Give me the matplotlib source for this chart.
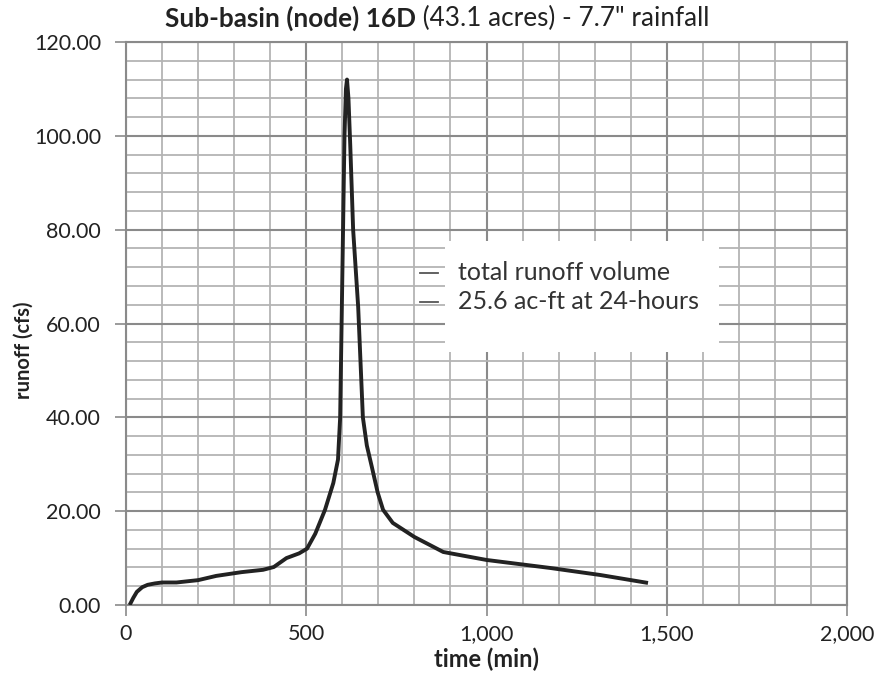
import matplotlib
matplotlib.use("Agg")
import matplotlib.pyplot as plt
from matplotlib.ticker import MultipleLocator, FuncFormatter

plt.rcParams['font.family'] = ['Lato', 'DejaVu Sans']

# hydrograph
time_min = [10, 20, 30, 45, 60, 80, 100, 140, 200, 250, 320, 380, 410, 445, 480,
            502, 525, 552, 575, 588, 594, 599, 602, 606, 610, 613, 617, 622, 630,
            644, 657, 668, 682, 698, 713, 740, 800, 880, 1000, 1176, 1315, 1448]
runoff_cfs = [0.0, 1.5, 2.8, 3.8, 4.3, 4.6, 4.8, 4.8, 5.3, 6.2, 7.0, 7.5, 8.1, 10.0, 11.0,
              12.0, 15.2, 20.3, 26.0, 31.0, 40.0, 65.0, 80.0, 100.0, 110.0, 112.0, 108.0, 98.0, 80.0,
              63.5, 40.0, 34.0, 29.4, 24.0, 20.3, 17.5, 14.5, 11.3, 9.6, 7.9, 6.4, 4.7]

title_bold = "Sub-basin (node) 16D"
title_rest = " (43.1 acres) - 7.7\" rainfall"
note_lines = ["total runoff volume", "25.6 ac-ft at 24-hours"]

fig = plt.figure(figsize=(8.82, 6.81), dpi=100)
ax = fig.add_axes([0.1429, 0.1116, 0.9603 - 0.1429, 0.9383 - 0.1116])

ax.set_xlim(0, 2000)
ax.set_ylim(0, 120)
ax.xaxis.set_major_locator(MultipleLocator(500))
ax.xaxis.set_minor_locator(MultipleLocator(100))
ax.yaxis.set_major_locator(MultipleLocator(20))
ax.yaxis.set_minor_locator(MultipleLocator(4))
ax.grid(which='minor', color='#b4b4b4', linewidth=1.3)
ax.grid(which='major', color='#8a8a8a', linewidth=1.5)
ax.set_axisbelow(True)
for s in ax.spines.values():
    s.set_color('#8a8a8a')
    s.set_linewidth(1.5)
ax.tick_params(which='major', length=8, color='#8a8a8a', width=1.2, labelsize=15.5,
               labelcolor='#222222')
ax.tick_params(axis='y', pad=10)
ax.tick_params(axis='x', pad=6)
ax.tick_params(which='minor', length=0)
ax.yaxis.set_major_formatter(FuncFormatter(lambda v, p: f"{v:.2f}"))
ax.xaxis.set_major_formatter(FuncFormatter(lambda v, p: f"{v:,.0f}"))

ax.plot(time_min, runoff_cfs, color='#222222', linewidth=2.8, solid_capstyle='butt', zorder=3)

# annotation box
ax.fill_between([885, 1645], 54, 77.5, color='white', zorder=2, linewidth=0)
for i, line in enumerate(note_lines):
    yv = 70.8 - i * 6.2
    ax.plot([815, 865], [yv, yv], color='#555555', linewidth=1.3, zorder=3)
    ax.text(920, yv, line, fontsize=18, color='#333333', va='center', ha='left', zorder=4)

ax.set_ylabel("runoff (cfs)", fontsize=14.5, fontweight='bold', color='#222222', va='center')
ax.yaxis.set_label_coords(-0.142, 0.453)
ax.set_xlabel("time (min)", fontsize=17, fontweight='bold', color='#222222', labelpad=2)

t1 = fig.text(0.187, 0.960, title_bold, fontsize=18.8, fontweight='bold', color='#222222',
              ha='left', va='baseline')
fig.canvas.draw()
ax.annotate(title_rest, xy=(1, 0), xycoords=t1, fontsize=18.8, color='#222222',
            ha='left', va='bottom')

fig.savefig("out.png", dpi=100, facecolor='white')
